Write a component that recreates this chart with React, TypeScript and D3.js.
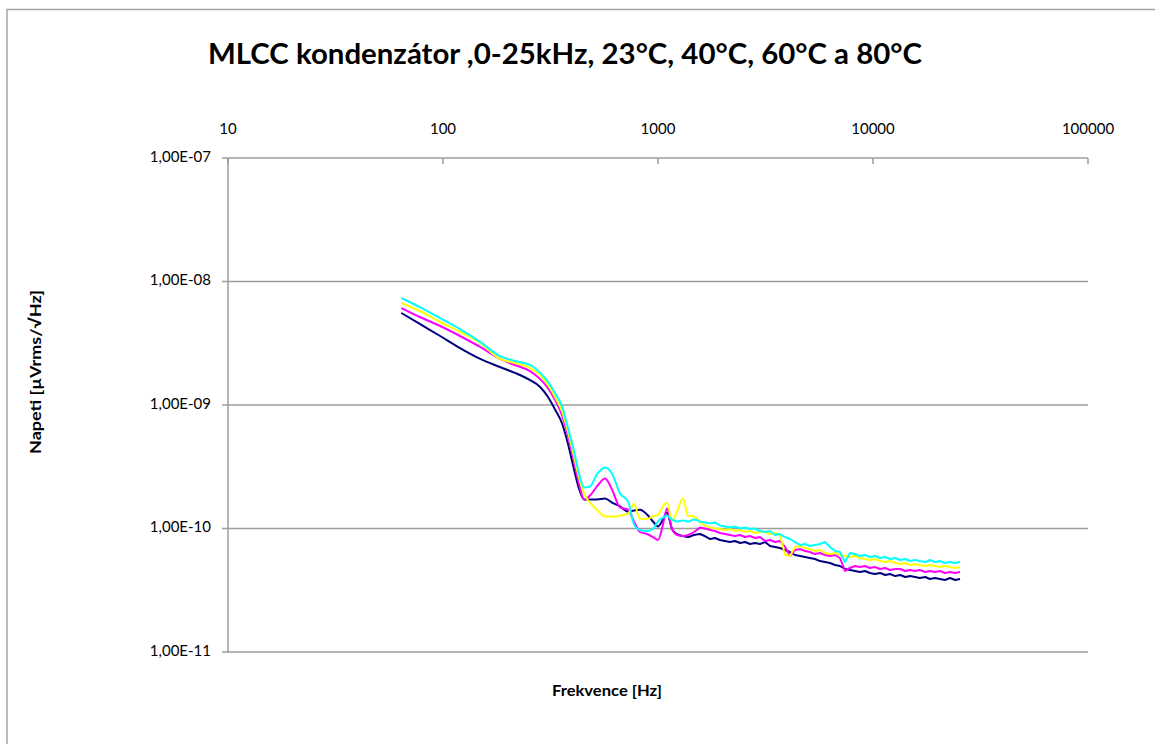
import React from "react";
import * as d3 from "d3";

// Frequency points of the measured spectra (Hz)
const freqHz = [
  64, 78, 97, 120, 149, 184, 216, 254, 283, 308, 332, 358, 381, 407, 429, 453, 483, 520, 567, 611,
  666, 726, 773, 825, 889, 948, 1000, 1055, 1101, 1162, 1226, 1307, 1379, 1471, 1568,
  1650, 1750, 1840, 1940, 2050, 2160, 2280, 2410, 2540, 2680, 2830, 2980, 3150, 3320, 3500, 3690,
  3900, 4110, 4340, 4580, 4830, 5090, 5370, 5670, 5980, 6310, 6660, 7020, 7410, 7820, 8250, 8700,
  9180, 9680, 10200, 10800, 11400, 12000, 12700, 13400, 14100, 14900, 15700, 16500, 17500, 18400,
  19400, 20500, 21600, 22800, 24100, 25400,
];

// Above this frequency the spectra are raw FFT noise and are drawn point to point
const smoothUpToHz = 1568;

// Noise voltage density at 23 °C
const napeti23 = [
  5.56e-9, 4.53e-9, 3.62e-9, 2.89e-9, 2.36e-9, 2.03e-9, 1.82e-9, 1.59e-9, 1.40e-9, 1.16e-9,
  9.19e-10, 7.08e-10, 4.88e-10, 3.0e-10, 2.11e-10, 1.72e-10, 1.72e-10, 1.72e-10, 1.75e-10, 1.62e-10,
  1.51e-10, 1.37e-10, 1.40e-10, 1.42e-10, 1.30e-10, 1.14e-10, 1.04e-10, 1.18e-10, 1.35e-10, 9.91e-11,
  9.02e-11, 8.69e-11, 8.53e-11, 8.86e-11, 9.02e-11,
  8.69e-11, 8.22e-11, 8.37e-11, 8.07e-11, 7.92e-11, 7.77e-11, 7.92e-11, 7.63e-11, 7.77e-11, 7.49e-11,
  7.63e-11, 7.49e-11, 7.77e-11, 7.21e-11, 7.08e-11, 6.95e-11, 6.70e-11, 6.45e-11, 6.10e-11, 5.99e-11,
  5.88e-11, 5.77e-11, 5.66e-11, 5.45e-11, 5.35e-11, 5.26e-11, 5.06e-11, 4.97e-11, 4.70e-11, 4.61e-11,
  4.53e-11, 4.44e-11, 4.53e-11, 4.36e-11, 4.28e-11, 4.36e-11, 4.20e-11, 4.28e-11, 4.12e-11, 4.20e-11,
  4.05e-11, 4.12e-11, 4.05e-11, 3.97e-11, 4.05e-11, 3.90e-11, 3.97e-11, 3.90e-11, 3.83e-11, 3.97e-11,
  3.83e-11, 3.90e-11,
];

// Noise voltage density at 40 °C
const napeti40 = [
  6.10e-9, 5.16e-9, 4.36e-9, 3.62e-9, 2.95e-9, 2.36e-9, 2.11e-9, 1.88e-9, 1.62e-9, 1.37e-9,
  1.10e-9, 8.22e-10, 5.66e-10, 3.49e-10, 2.31e-10, 1.72e-10, 1.85e-10, 2.19e-10, 2.54e-10, 2.07e-10,
  1.48e-10, 1.42e-10, 1.14e-10, 9.37e-11, 9.02e-11, 8.53e-11, 8.07e-11, 1.08e-10, 1.45e-10, 9.91e-11,
  8.86e-11, 8.69e-11, 8.86e-11, 9.37e-11, 1.02e-10,
  1.00e-10, 9.72e-11, 9.54e-11, 9.19e-11, 9.02e-11, 8.86e-11, 8.69e-11, 8.86e-11, 8.53e-11, 8.69e-11,
  8.37e-11, 8.53e-11, 7.92e-11, 8.07e-11, 7.77e-11, 7.92e-11, 7.08e-11, 5.99e-11, 6.70e-11, 6.82e-11,
  6.57e-11, 6.45e-11, 6.21e-11, 6.33e-11, 6.10e-11, 5.99e-11, 6.10e-11, 5.77e-11, 4.53e-11, 4.79e-11,
  4.97e-11, 4.88e-11, 4.97e-11, 4.79e-11, 4.88e-11, 4.70e-11, 4.79e-11, 4.61e-11, 4.70e-11, 4.70e-11,
  4.53e-11, 4.61e-11, 4.53e-11, 4.61e-11, 4.44e-11, 4.53e-11, 4.44e-11, 4.53e-11, 4.36e-11, 4.44e-11,
  4.36e-11, 4.44e-11,
];

// Noise voltage density at 60 °C
const napeti60 = [
  6.70e-9, 5.77e-9, 4.70e-9, 3.90e-9, 3.18e-9, 2.36e-9, 2.19e-9, 1.99e-9, 1.75e-9, 1.45e-9,
  1.16e-9, 8.86e-10, 6.10e-10, 3.83e-10, 2.59e-10, 1.92e-10, 1.62e-10, 1.42e-10, 1.25e-10, 1.25e-10,
  1.27e-10, 1.32e-10, 1.59e-10, 1.20e-10, 1.20e-10, 1.25e-10, 1.30e-10, 1.51e-10, 1.62e-10, 1.16e-10,
  1.37e-10, 1.75e-10, 1.27e-10, 1.25e-10, 1.12e-10,
  1.06e-10, 1.02e-10, 1.00e-10, 9.91e-11, 9.72e-11, 9.91e-11, 9.54e-11, 9.72e-11, 9.37e-11, 9.54e-11,
  9.19e-11, 9.37e-11, 9.37e-11, 9.02e-11, 9.19e-11, 8.86e-11, 6.10e-11, 5.99e-11, 7.08e-11, 7.21e-11,
  6.95e-11, 6.82e-11, 6.57e-11, 6.70e-11, 6.33e-11, 6.21e-11, 6.33e-11, 6.10e-11, 5.99e-11, 5.88e-11,
  5.99e-11, 5.77e-11, 5.66e-11, 5.56e-11, 5.66e-11, 5.45e-11, 5.35e-11, 5.45e-11, 5.26e-11, 5.16e-11,
  5.26e-11, 5.06e-11, 5.16e-11, 5.06e-11, 4.97e-11, 5.06e-11, 4.97e-11, 4.88e-11, 4.97e-11, 4.88e-11,
  4.79e-11, 4.88e-11,
];

// Noise voltage density at 80 °C
const napeti80 = [
  7.35e-9, 6.21e-9, 5.06e-9, 4.12e-9, 3.24e-9, 2.49e-9, 2.27e-9, 2.11e-9, 1.82e-9, 1.54e-9,
  1.25e-9, 9.72e-10, 6.57e-10, 4.20e-10, 2.79e-10, 2.15e-10, 2.19e-10, 2.74e-10, 3.12e-10, 2.79e-10,
  1.92e-10, 1.65e-10, 1.08e-10, 9.72e-11, 9.54e-11, 9.91e-11, 1.14e-10, 1.23e-10, 1.27e-10, 1.18e-10,
  1.14e-10, 1.16e-10, 1.14e-10, 1.18e-10, 1.14e-10,
  1.12e-10, 1.10e-10, 1.12e-10, 1.06e-10, 1.04e-10, 1.02e-10, 1.04e-10, 1.00e-10, 1.02e-10, 9.91e-11,
  1.00e-10, 9.54e-11, 9.37e-11, 9.54e-11, 8.86e-11, 9.02e-11, 8.53e-11, 8.22e-11, 7.77e-11, 7.35e-11,
  7.49e-11, 7.21e-11, 7.35e-11, 7.49e-11, 7.77e-11, 7.08e-11, 6.57e-11, 6.45e-11, 5.35e-11, 6.33e-11,
  6.21e-11, 5.99e-11, 6.10e-11, 5.88e-11, 5.99e-11, 5.77e-11, 5.88e-11, 5.66e-11, 5.77e-11, 5.56e-11,
  5.66e-11, 5.45e-11, 5.56e-11, 5.45e-11, 5.35e-11, 5.56e-11, 5.35e-11, 5.45e-11, 5.26e-11, 5.35e-11,
  5.26e-11, 5.35e-11,
];

const seriesValues = [napeti23, napeti40, napeti60, napeti80];
const seriesColors = ["#000080", "#ff00ff", "#ffff00", "#00ffff"];

const xTickValues = [10, 100, 1000, 10000, 100000];
const xTickLabels = ["10", "100", "1000", "10000", "100000"];
const yTickValues = [1e-7, 1e-8, 1e-9, 1e-10, 1e-11];
const yTickLabels = ["1,00E-07", "1,00E-08", "1,00E-09", "1,00E-10", "1,00E-11"];

const titleText = "MLCC kondenzátor ,0-25kHz, 23°C, 40°C, 60°C a 80°C";
const xTitle = "Frekvence [Hz]";
const yTitle = "Napeti [µVrms/√Hz]";

const W = 1155;
const H = 744;
const plot = { left: 228, right: 1088, top: 158, bottom: 652 };
const font = "Lato, Calibri, 'Open Sans', sans-serif";
const gridColor = "#9c9c9c";

type Pt = [number, number];

export default function App() {
  const x = d3.scaleLog().domain([10, 100000]).range([plot.left, plot.right]);
  const y = d3.scaleLog().domain([1e-11, 1e-7]).range([plot.bottom, plot.top]);

  const smoothLine = d3
    .line<Pt>()
    .x((d) => x(d[0]))
    .y((d) => y(d[1]))
    .curve(d3.curveMonotoneX);
  const rawLine = d3
    .line<Pt>()
    .x((d) => x(d[0]))
    .y((d) => y(d[1]));

  const paths = seriesValues.map((vals) => {
    const n = Math.min(vals.length, freqHz.length);
    const pts: Pt[] = [];
    for (let i = 0; i < n; i++) pts.push([freqHz[i], vals[i]]);
    const lo = pts.filter((p) => p[0] <= smoothUpToHz);
    const hi = pts.filter((p) => p[0] >= smoothUpToHz);
    const a = smoothLine(lo) || "";
    const b = (rawLine(hi) || "").replace(/^M/, "L");
    return a + b;
  });

  return (
    <div style={{ position: "absolute", left: 0, top: 0 }}>
      <svg width={W} height={H} style={{ display: "block", background: "#fff" }}>
        <rect x={0} y={0} width={W} height={H} fill="#fff" />
        {/* chart frame */}
        <rect x={7} y={9.5} width={W + 20} height={H + 20} fill="none" stroke="#a6a6a6" strokeWidth={1.5} />

        {/* title */}
        <text
          x={565}
          y={64}
          textAnchor="middle"
          fontFamily={font}
          fontWeight="bold"
          fontSize={28}
          textLength={714}
          lengthAdjust="spacingAndGlyphs"
          fill="#000"
        >
          {titleText}
        </text>

        {/* horizontal gridlines */}
        {yTickValues.map((v) => (
          <line key={"g" + v} x1={plot.left} x2={plot.right} y1={y(v)} y2={y(v)} stroke={gridColor} strokeWidth={1.5} />
        ))}

        {/* vertical axis with ticks */}
        <line x1={plot.left} x2={plot.left} y1={plot.top} y2={plot.bottom} stroke={gridColor} strokeWidth={1.5} />
        {yTickValues.map((v, i) => (
          <g key={"yt" + v}>
            <line x1={plot.left - 6} x2={plot.left} y1={y(v)} y2={y(v)} stroke={gridColor} strokeWidth={1.5} />
            <text
              x={211}
              y={y(v)}
              textAnchor="end"
              dominantBaseline="middle"
              fontFamily={font}
              fontSize={15}
              fill="#000"
            >
              {yTickLabels[i]}
            </text>
          </g>
        ))}

        {/* frequency axis along the top */}
        {xTickValues.map((v, i) => (
          <g key={"xt" + v}>
            <line x1={x(v)} x2={x(v)} y1={plot.top} y2={plot.top + 6} stroke={gridColor} strokeWidth={1.5} />
            <text
              x={x(v)}
              y={130}
              textAnchor="middle"
              dominantBaseline="middle"
              fontFamily={font}
              fontSize={15}
              fill="#000"
            >
              {xTickLabels[i]}
            </text>
          </g>
        ))}

        {/* spectra */}
        {paths.map((d, i) => (
          <path key={"s" + i} d={d} fill="none" stroke={seriesColors[i]} strokeWidth={2} strokeLinejoin="round" />
        ))}

        {/* axis titles */}
        <text
          x={607}
          y={692}
          textAnchor="middle"
          dominantBaseline="middle"
          fontFamily={font}
          fontWeight="bold"
          fontSize={15}
          textLength={110}
          lengthAdjust="spacingAndGlyphs"
          fill="#000"
        >
          {xTitle}
        </text>
        <text
          transform={`translate(37,372) rotate(-90)`}
          textAnchor="middle"
          dominantBaseline="middle"
          fontFamily={font}
          fontWeight="bold"
          fontSize={16}
          textLength={164}
          lengthAdjust="spacingAndGlyphs"
          fill="#000"
        >
          {yTitle}
        </text>
      </svg>
    </div>
  );
}
